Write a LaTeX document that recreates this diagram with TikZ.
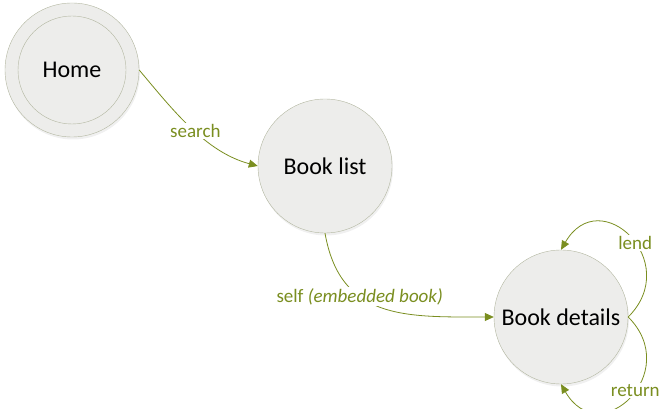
\documentclass[tikz,border=0pt]{standalone}
\usepackage{fontspec}
\setmainfont{Carlito}
\usepackage{tikz}
\usetikzlibrary{shapes.geometric, arrows.meta, shadows}

\definecolor{linkgreen}{RGB}{122,142,32}
\definecolor{statefill}{RGB}{237,237,235}
\definecolor{stateborder}{RGB}{178,182,160}

\begin{document}
\begin{tikzpicture}[x=1pt, y=1pt,
            state/.style={circle, draw=stateborder, fill=statefill, minimum size=134pt, inner sep=0pt, font=\fontsize{24}{28}\selectfont}, % Circle for states
            shade/.style={drop shadow={opacity=0.12, shadow xshift=1pt, shadow yshift=-2.5pt}}, % Soft shadow under states
            link/.style={draw=linkgreen, line width=0.8pt, -{Triangle[length=9pt, width=8pt]}}, % Green connectors
            linklabel/.style={fill=white, text=linkgreen, inner sep=1.5pt, font=\fontsize{19}{23}\selectfont} % Labels on connectors
            ]
        \useasboundingbox (0,0) rectangle (666,409);

                % States, the home state drawn with a second inner ring
                \node[state, shade] (home) at (72,339) {};
                \node[state, minimum size=108pt] (homeinner) at (home) {Home};
                \node[state, shade] (list) at (325,243) {Book list};
                \node[state, shade] (details) at (561,92) {Book details};

                % Links between states
                \draw[link] (home.east) to[out=-50, in=165, looseness=0.9] node[linklabel, pos=0.53] {search} (list.west);
                \draw[link] (list.south) to[out=-80, in=180, looseness=1.2] node[linklabel, pos=0.36] {self \textit{(embedded book)}} (details.west);
                \draw[link] (details.east) to[out=45, in=60, looseness=2.1] node[linklabel, pos=0.45] {lend} (details.north);
                \draw[link] (details.east) to[out=-45, in=-60, looseness=2.1] node[linklabel, pos=0.45] {return} (details.south);

            \end{tikzpicture}
\end{document}
